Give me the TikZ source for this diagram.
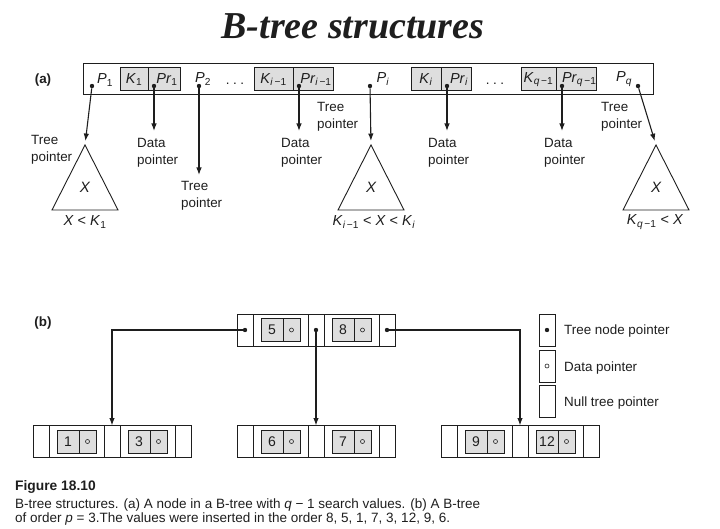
\documentclass[tikz,border=0pt]{standalone}
\usepackage{fontspec}
\setmainfont{Liberation Sans}
\newfontfamily\titlefont{Liberation Serif}
\usetikzlibrary{shapes, calc, positioning, arrows.meta}

\definecolor{boxgray}{RGB}{222,222,222}
\definecolor{ink}{RGB}{30,30,30}

\newcommand{\lab}[2]{\textit{#1}\textsubscript{#2}}
\newcommand{\im}{\textit{i}\,−1}
\newcommand{\qm}{\textit{q}\,−1}

\begin{document}
\begin{tikzpicture}[x=1pt, y=-1pt, color=ink,
	every node/.style={font=\fontsize{13.4}{17}\selectfont},
	big/.style={font=\fontsize{14.5}{17}\selectfont},
	keybox/.style={draw, fill=boxgray, minimum height=23pt, inner sep=0pt, outer sep=0pt, line width=1pt},
	pcell/.style={draw, minimum width=16pt, minimum height=32pt, inner sep=0pt, outer sep=0pt, line width=1pt},
	kdcell/.style={pcell, minimum width=55pt},
	dot/.style={circle, fill, inner sep=0pt, minimum size=4.4pt},
	odot/.style={circle, draw, inner sep=0pt, minimum size=4pt, line width=0.6pt},
	txt/.style={align=left, inner sep=0pt, anchor=west},
	ptr/.style={-{Latex[length=7.5pt, width=5.5pt]}, line width=1.1pt},
	tree/.style={line width=0.9pt}]
	\useasboundingbox (0,0) rectangle (720,529);

	\node[font=\titlefont\bfseries\itshape\fontsize{38}{40}\selectfont, anchor=base] (title) at (353,39) {B-tree structures};

	% (a) one node with q-1 search values
	\node[font=\bfseries\fontsize{13.4}{17}\selectfont, inner sep=0pt] (parta) at (43,80) {(a)};
	\node[draw, line width=1pt, minimum width=570pt, minimum height=31pt, inner sep=0pt] (bar) at (368,79.5) {};

	\foreach \nm/\x/\wk/\wp/\s in {1/120/28/32/1, im/254/39/40/\im, i/411/30/30/\textit{i}, qm/521/35/37/\qm} {
		\node[keybox, big, minimum width=\wk pt, anchor=west] (k\nm) at (\x,79.5) {\lab{K}{\s}};
		\node[keybox, big, minimum width=\wp pt, right=0pt of k\nm] (pr\nm) {\hspace{6pt}\lab{Pr}{\s}};
		\node[dot] (dpr\nm) at ([xshift=6pt, yshift=-6.5pt]pr\nm.west) {};
		\path (dpr\nm) ++(0,45) coordinate (epr\nm);
		\draw[ptr] (dpr\nm) -- (epr\nm);
	}

	\node[big] (p1) at (105,80) {\lab{P}{1}};
	\node[dot] (dp1) at (92,86) {};
	\node[big] (p2) at (203,79) {\lab{P}{2}};
	\node[dot] (dp2) at (199,86) {};
	\node[big] (pi) at (383,79) {\lab{P}{\textit{i}}};
	\node[dot] (dpi) at (370,86) {};
	\node[big] (pq) at (624,79) {\lab{P}{\textit{q}}};
	\node[dot] (dpq) at (638,86) {};
	\node[inner sep=0pt] (gap1) at (235,84) {.\hspace{3.5pt}.\hspace{3.5pt}.};
	\node[inner sep=0pt] (gap2) at (495,84) {.\hspace{3.5pt}.\hspace{3.5pt}.};

	\foreach \nm/\x in {a/85, b/371, c/656} {
		\coordinate (apex\nm) at (\x,145);
		\draw[tree] (apex\nm) -- ++(-33,65) -- ++(66,0) -- cycle;
		\node[font=\itshape\fontsize{15}{17}\selectfont] (x\nm) at (\x,187) {X};
	}
	\node[big] (ra) at (85,222) {\textit{X} < \lab{K}{1}};
	\node[big] (rb) at (374,222) {\lab{K}{\im} < \textit{X} < \lab{K}{\textit{i}}};
	\node[big] (rc) at (655,222) {\lab{K}{\qm} < \textit{X}};

	\coordinate (ep2) at (199,175);
	\draw[ptr, shorten >=4pt] (dp1) -- (apexa);
	\draw[ptr] (dp2) -- (ep2);
	\draw[ptr, shorten >=4pt] (dpi) -- (apexb);
	\draw[ptr, shorten >=4pt] (dpq) -- (apexc);

	\node[txt] (tpa) at (31,150) {Tree\\pointer};
	\node[txt] (dpa) at (137,153) {Data\\pointer};
	\node[txt] (tpb) at (181,196) {Tree\\pointer};
	\node[txt] (dpb) at (281,153) {Data\\pointer};
	\node[txt] (tpc) at (317,117) {Tree\\pointer};
	\node[txt] (dpc) at (428,153) {Data\\pointer};
	\node[txt] (dpd) at (544,153) {Data\\pointer};
	\node[txt] (tpd) at (601,117) {Tree\\pointer};

	% (b) a B-tree of order p = 3
	\node[font=\bfseries\fontsize{13.4}{17}\selectfont, inner sep=0pt] (partb) at (43,323) {(b)};
	\foreach \nm/\x/\y/\ka/\kb in {root/237/330/5/8, la/33/441.5/1/3, lb/237/441.5/6/7, lc/441/441.5/9/12} {
		\node[pcell] (\nm-p0) at (\x+8,\y) {};
		\node[kdcell, right=0pt of \nm-p0] (\nm-c1) {};
		\node[pcell, right=0pt of \nm-c1] (\nm-p1) {};
		\node[kdcell, right=0pt of \nm-p1] (\nm-c2) {};
		\node[pcell, right=0pt of \nm-c2] (\nm-p2) {};
		\foreach \c/\k in {c1/\ka, c2/\kb} {
			\node[keybox, minimum width=22pt, font=\fontsize{14}{16}\selectfont] (\nm-\c-k) at ([xshift=-8.5pt]\nm-\c.center) {\k};
			\node[keybox, minimum width=17pt, right=0pt of \nm-\c-k] (\nm-\c-d) {};
			\node[odot] at (\nm-\c-d) {};
		}
	}
	\node[dot] (rd0) at (root-p0) {};
	\node[dot] (rd1) at (root-p1) {};
	\node[dot] (rd2) at (root-p2) {};
	\draw[ptr] (rd0) -| (la-p1.north);
	\draw[ptr] (rd1) -- (rd1 |- lb-p1.north);
	\draw[ptr] (rd2) -| (lc-p1.north);

	% legend
	\node[pcell] (lg1) at (547,330) {};
	\node[pcell] (lg2) at (547,366) {};
	\node[pcell] (lg3) at (547,401.5) {};
	\node[dot] at (lg1) {};
	\node[odot] at (lg2) {};
	\node[txt] (lt1) at (564,331.5) {Tree node pointer};
	\node[txt] (lt2) at (564,368) {Data pointer};
	\node[txt] (lt3) at (564,403) {Null tree pointer};

	% caption
	\node[font=\bfseries\fontsize{13.8}{15}\selectfont, anchor=base west, inner sep=0pt] (figno) at (15,490.5) {Figure 18.10};
	\node[font=\fontsize{13.5}{15}\selectfont, anchor=base west, inner sep=0pt] (cap1) at (15,508) {B-tree structures. (a) A node in a B-tree with \textit{q} − 1 search values. (b) A B-tree};
	\node[font=\fontsize{13.5}{15}\selectfont, anchor=base west, inner sep=0pt] (cap2) at (15,522.5) {of order \textit{p} = 3.The values were inserted in the order 8, 5, 1, 7, 3, 12, 9, 6.};
\end{tikzpicture}
\end{document}
